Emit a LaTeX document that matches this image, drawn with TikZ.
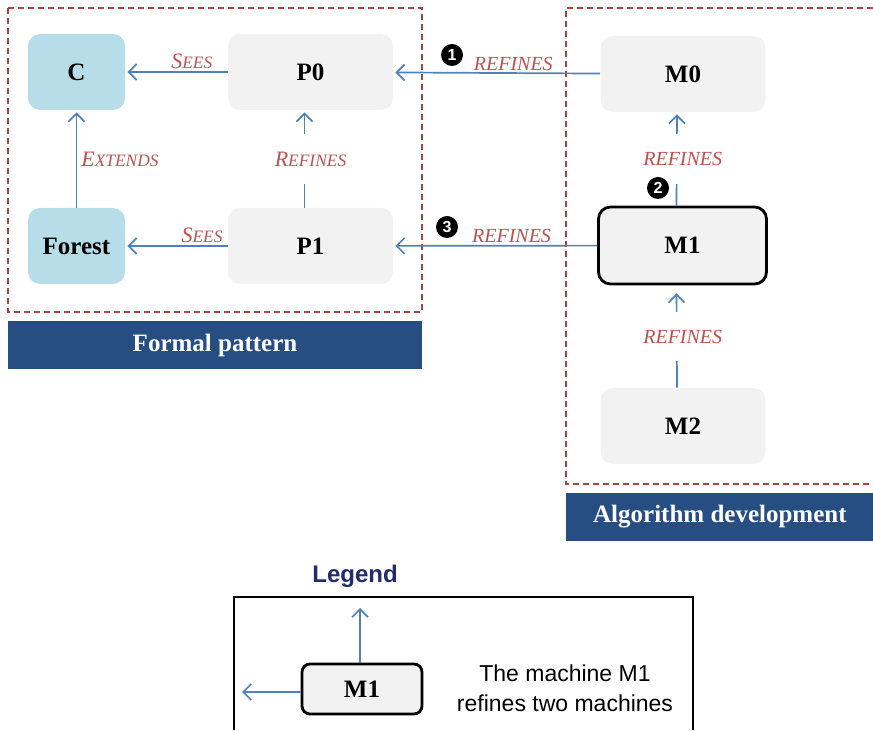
\documentclass[tikz,border=0pt]{standalone}
\usepackage{fontspec}
\setmainfont{Liberation Serif}
\newfontfamily\legendfont{Liberation Sans}
\usetikzlibrary{arrows.meta,positioning}

\definecolor{bannerblue}{HTML}{264E83}
\definecolor{arrowblue}{HTML}{4F81BD}
\definecolor{labelred}{HTML}{C0504D}
\definecolor{dashred}{HTML}{A94442}
\definecolor{ctxblue}{HTML}{B7DEE8}
\definecolor{machgrey}{HTML}{F2F2F2}
\definecolor{legendnavy}{HTML}{222B6E}

% relation name with a large first letter
\newcommand{\relname}[2]{{\fontsize{11}{12}\selectfont #1}{\fontsize{8.7}{10}\selectfont #2}}

\tikzset{
  machine/.style={rounded corners=6pt, fill=machgrey, minimum width=82.5pt, minimum height=38pt,
    font=\bfseries\fontsize{12.5}{14}\selectfont},
  context/.style={machine, fill=ctxblue, minimum width=48.5pt},
  current/.style={machine, draw=black, line width=1.4pt, minimum width=84pt, minimum height=38.5pt},
  rel/.style={->, draw=arrowblue, line width=0.85pt, shorten >=1pt},
  rellabel/.style={text=labelred, font=\itshape\fontsize{10}{11}\selectfont, inner sep=1pt},
  gaplabel/.style={rellabel, fill=white, inner ysep=9pt},
  badge/.style={circle, fill=black, text=white, inner sep=0pt, minimum size=11pt,
    font=\legendfont\bfseries\fontsize{8}{8}\selectfont},
  banner/.style={fill=bannerblue, text=white, inner sep=0pt, font=\bfseries\fontsize{12.5}{14}\selectfont},
  frame/.style={draw=dashred, line width=0.7pt, dash pattern=on 3pt off 2pt}
}

\begin{document}
\begin{tikzpicture}[x=0.5pt, y=-0.5pt, >={Straight Barb[length=4pt,width=8pt]}]
  \useasboundingbox (0,0) rectangle (873,731);

  % formal pattern
  \draw[frame] (8,8) rectangle (422,312);
  \node[context] (c) at (76.5,72) {C};
  \node[machine] (p0) at (310.5,72) {P0};
  \node[context] (forest) at (76.5,246) {Forest};
  \node[machine] (p1) at (310.5,246) {P1};
  \node[banner, minimum width=207pt, minimum height=24pt] (formal) at (215,345) {Formal pattern};

  \draw[rel] (p0) -- (c) node[rellabel, pos=0.35, above] {\relname{S}{EES}};
  \draw[rel] (p1) -- (forest) node[rellabel, pos=0.25, above] {\relname{S}{EES}};
  \draw[rel] (forest) -- (c) node[rellabel, midway, right=1pt] {\relname{E}{XTENDS}};
  \draw[rel] ([xshift=-3pt]p1.north) -- node[gaplabel, xshift=3pt] {\relname{R}{EFINES}} ([xshift=-3pt]p0.south);

  % algorithm development
  \draw[frame] (873,8) -- (566,8) -- (566,484) -- (873,484);
  \node[machine] (m0) at (683,74) {M0};
  \node[current] (m1) at (682.5,245.5) {M1};
  \node[machine] (m2) at (683,426) {M2};
  \node[banner, minimum width=153.5pt, minimum height=24pt, anchor=west] (algo) at (566,517) {Algorithm development};

  \draw[rel] (m0) -- (p0) node[rellabel, pos=0.42, above] {REFINES};
  \draw[rel] (m1) -- (p1) node[rellabel, pos=0.42, above] {REFINES};
  \draw[rel] ([xshift=-3pt]m1.north) -- node[gaplabel, xshift=3pt] {REFINES} ([xshift=-3pt]m0.south);
  \draw[rel, shorten >=4pt] ([xshift=-3pt]m2.north) -- node[gaplabel, xshift=3pt] {REFINES} ([xshift=-3pt]m1.south);

  \node[badge] (one) at (452,55) {1};
  \node[badge] (two) at (658,188) {2};
  \node[badge] (three) at (447,227) {3};

  % legend
  \node[text=legendnavy, font=\legendfont\bfseries\fontsize{12}{14}\selectfont] (legend) at (355,576) {Legend};
  \draw[line width=1pt] (234,729.5) -- (234,597) -- (693,597) -- (693,729.5);
  \node[current, minimum width=60pt, minimum height=25pt, rounded corners=4pt] (lm1) at (362,689) {M1};
  \coordinate (lup) at (360,606);
  \coordinate (lleft) at (240,692);
  \draw[rel] (lm1.north -| lup) -- (lup);
  \draw[rel] (lm1.west |- lleft) -- (lleft);
  \node[align=center, font=\legendfont\fontsize{11.5}{15}\selectfont] (ltext) at (565,688) {The machine M1\\refines two machines};
\end{tikzpicture}
\end{document}
